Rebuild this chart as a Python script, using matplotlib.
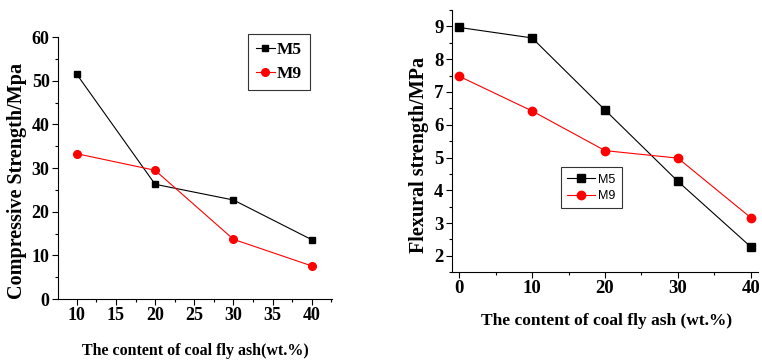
import matplotlib.pyplot as plt
from matplotlib.ticker import MultipleLocator

plt.rcParams['font.family'] = ['Liberation Serif', 'DejaVu Serif']

# left panel: compressive strength
ash_left = [10, 20, 30, 40]
comp_m5 = [51.5, 26.3, 22.7, 13.6]
comp_m9 = [33.3, 29.5, 13.7, 7.6]

# right panel: flexural strength
ash_right = [0, 10, 20, 30, 40]
flex_m5 = [8.97, 8.65, 6.45, 4.27, 2.27]
flex_m9 = [7.48, 6.42, 5.21, 4.98, 3.16]

fig = plt.figure(figsize=(7.62, 3.6), dpi=100)
ax1 = fig.add_axes([0.076, 0.169, 0.36, 0.728])
ax2 = fig.add_axes([0.593, 0.244, 0.402, 0.728])

for ax in (ax1, ax2):
    ax.spines['top'].set_visible(False)
    ax.spines['right'].set_visible(False)
    ax.tick_params(which='both', direction='out', width=0.8)
    ax.tick_params(which='major', length=4, pad=2)
    ax.tick_params(which='minor', length=2.5)

ax1.plot(ash_left, comp_m5, color='black', marker='s', markersize=5, lw=0.8, label='M5')
ax1.plot(ash_left, comp_m9, color='red', marker='o', markersize=5.5, lw=0.8, label='M9')
ax1.set_xlim(7.6, 42.6)
ax1.set_ylim(0, 60)
ax1.xaxis.set_major_locator(MultipleLocator(5))
ax1.xaxis.set_minor_locator(MultipleLocator(2.5))
ax1.yaxis.set_major_locator(MultipleLocator(10))
ax1.yaxis.set_minor_locator(MultipleLocator(5))
for lab in ax1.get_xticklabels() + ax1.get_yticklabels():
    lab.set_fontsize(13)
    lab.set_fontweight('bold')
ax1.set_xlabel('The content of coal fly ash(wt.%)', fontsize=11.5, fontweight='bold')
ax1.xaxis.set_label_coords(0.5, -0.168)
ax1.set_ylabel('Compressive Strength/Mpa', fontsize=14.5, fontweight='bold')
ax1.yaxis.set_label_coords(-0.112, 0.452)
leg1 = ax1.legend(loc='upper left', bbox_to_anchor=(0.693, 1.011), borderaxespad=0,
                  fancybox=False, edgecolor='black', prop={'size': 12.5, 'weight': 'bold'},
                  handlelength=1.1, handletextpad=0.1, borderpad=0.45, labelspacing=0.45)
leg1.get_frame().set_linewidth(0.8)

ax2.plot(ash_right, flex_m5, color='black', marker='s', markersize=5.5, lw=0.8, label='M5')
ax2.plot(ash_right, flex_m9, color='red', marker='o', markersize=6, lw=0.8, label='M9')
ax2.set_xlim(-1, 41)
ax2.set_ylim(1.5, 9.5)
ax2.xaxis.set_major_locator(MultipleLocator(10))
ax2.xaxis.set_minor_locator(MultipleLocator(5))
ax2.yaxis.set_major_locator(MultipleLocator(1))
ax2.yaxis.set_minor_locator(MultipleLocator(0.5))
for lab in ax2.get_xticklabels() + ax2.get_yticklabels():
    lab.set_fontsize(13.5)
    lab.set_fontweight('bold')
ax2.set_xlabel('The content of coal fly ash (wt.%)', fontsize=12.5, fontweight='bold')
ax2.xaxis.set_label_coords(0.505, -0.156)
ax2.set_ylabel('Flexural strength/MPa', fontsize=14.5, fontweight='bold')
ax2.yaxis.set_label_coords(-0.075, 0.447)
leg2 = ax2.legend(loc='upper left', bbox_to_anchor=(0.356, 0.40), borderaxespad=0,
                  fancybox=False, edgecolor='black', prop={'family': 'Liberation Sans', 'size': 9},
                  handlelength=2.2, handletextpad=0.3, borderpad=0.5, labelspacing=0.35)
leg2.get_frame().set_linewidth(0.8)

fig.savefig('out.png', dpi=100)
